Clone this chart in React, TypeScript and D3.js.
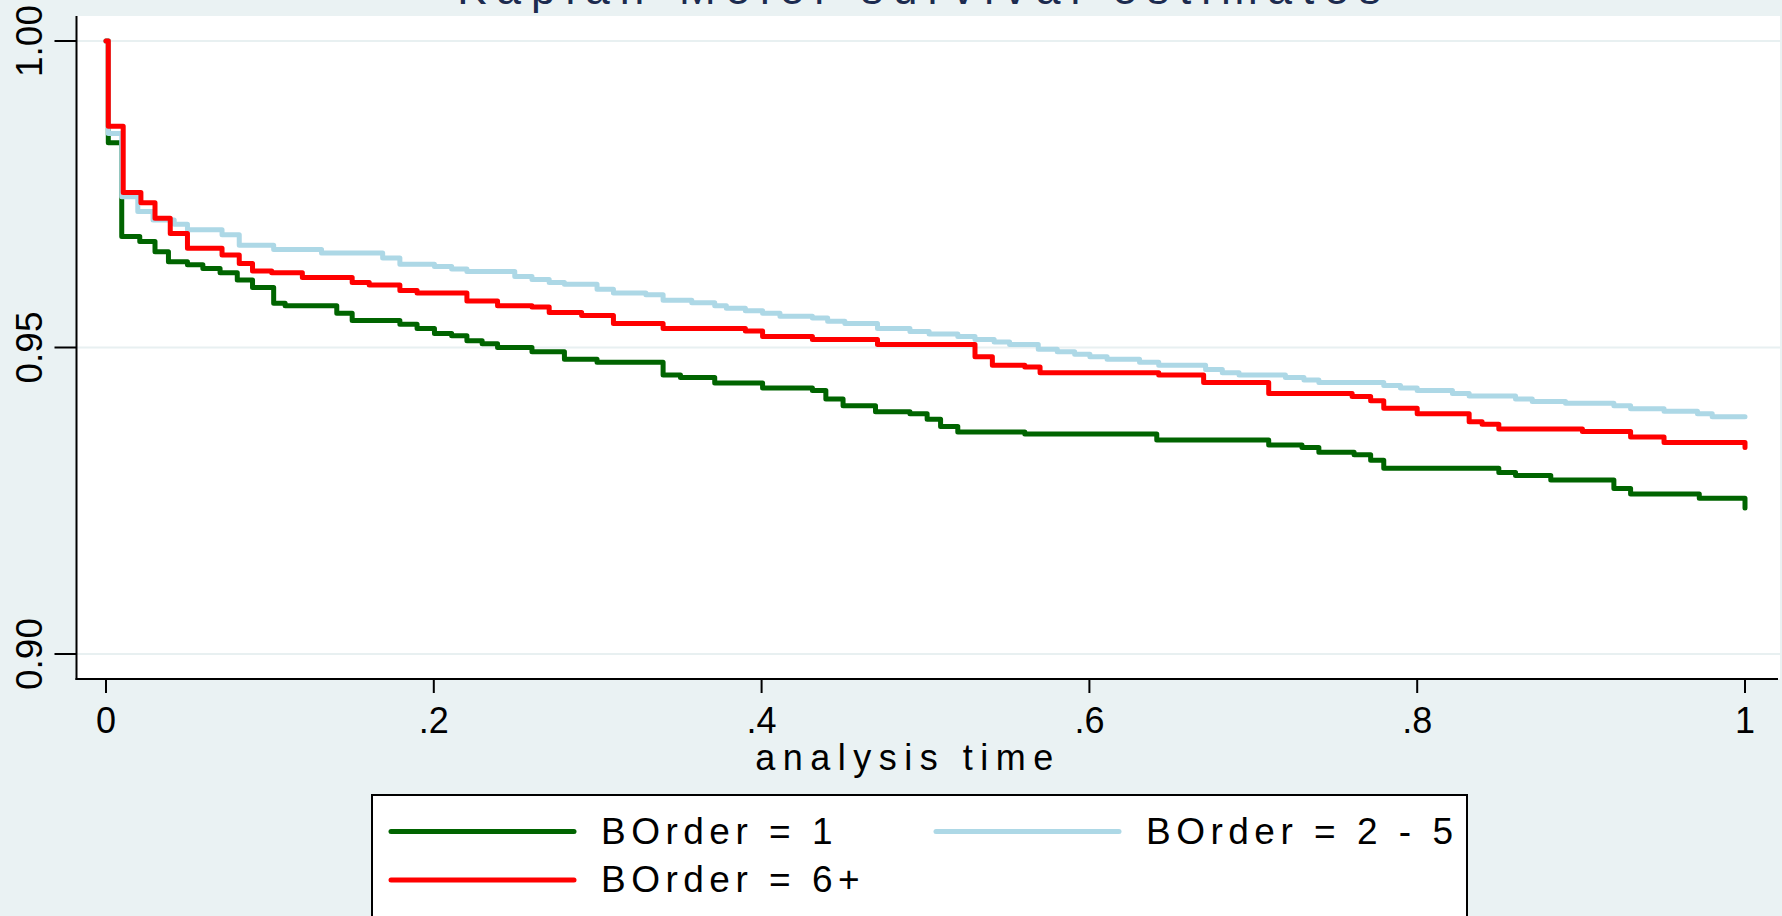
import * as d3 from 'd3'

// step times / survival
const GREEN_T = [0, 0.0014, 0.0096, 0.0206, 0.0299, 0.0381, 0.0497, 0.0591, 0.0696, 0.0801, 0.0894, 0.1023, 0.1093, 0.1408, 0.1502, 0.1793, 0.1898, 0.2004, 0.2109, 0.2202, 0.2295, 0.2389, 0.2599, 0.2797, 0.2996, 0.3399, 0.3505, 0.3714, 0.4006, 0.431, 0.4392, 0.4497, 0.4695, 0.4905, 0.501, 0.5092, 0.5197, 0.5606, 0.6411, 0.7094, 0.7297, 0.74, 0.7615, 0.7716, 0.7796, 0.8498, 0.86, 0.8815, 0.92, 0.9302, 0.9721, 1.0]
const GREEN_S = [1.0, 0.9834, 0.9681, 0.9673, 0.9656, 0.964, 0.9635, 0.9629, 0.9622, 0.961, 0.9598, 0.9572, 0.9568, 0.9556, 0.9544, 0.9538, 0.9531, 0.9523, 0.9519, 0.9511, 0.9506, 0.95, 0.9493, 0.9481, 0.9476, 0.9455, 0.9451, 0.9442, 0.9434, 0.943, 0.9416, 0.9405, 0.9395, 0.9392, 0.9383, 0.9371, 0.9362, 0.9359, 0.9349, 0.9341, 0.9337, 0.9329, 0.9325, 0.9316, 0.9303, 0.9296, 0.9291, 0.9284, 0.927, 0.9261, 0.9254, 0.9238]

const BLUE_T = [0, 0.0014, 0.0096, 0.0194, 0.0287, 0.0416, 0.0497, 0.0708, 0.0813, 0.1023, 0.1315, 0.1688, 0.1793, 0.2004, 0.2109, 0.2202, 0.2494, 0.2599, 0.2704, 0.2797, 0.2996, 0.3096, 0.3294, 0.3399, 0.3574, 0.3714, 0.3785, 0.3901, 0.4006, 0.4112, 0.431, 0.4403, 0.4508, 0.4707, 0.4905, 0.5022, 0.5197, 0.5302, 0.5419, 0.5513, 0.5688, 0.5804, 0.591, 0.6003, 0.6108, 0.6306, 0.6423, 0.6709, 0.6811, 0.6913, 0.7196, 0.7309, 0.74, 0.7796, 0.7898, 0.8, 0.8215, 0.8317, 0.86, 0.8702, 0.8905, 0.92, 0.9302, 0.9506, 0.971, 0.98, 1.0]
const BLUE_S = [1.0, 0.9849, 0.9746, 0.9722, 0.9708, 0.9701, 0.9692, 0.9684, 0.9667, 0.966, 0.9654, 0.9646, 0.9636, 0.9632, 0.9628, 0.9624, 0.9616, 0.9611, 0.9606, 0.9603, 0.9595, 0.9589, 0.9586, 0.9577, 0.9573, 0.9568, 0.9564, 0.956, 0.9556, 0.9551, 0.9548, 0.9543, 0.9539, 0.9531, 0.9526, 0.9522, 0.9518, 0.9513, 0.9509, 0.9505, 0.9497, 0.9493, 0.9489, 0.9485, 0.9481, 0.9476, 0.9471, 0.9464, 0.9459, 0.9455, 0.9451, 0.9447, 0.9443, 0.9438, 0.9434, 0.943, 0.9425, 0.9421, 0.9416, 0.9412, 0.9409, 0.9405, 0.94, 0.9396, 0.9392, 0.9387, 0.9387]

const RED_T = [0, 0.0014, 0.0105, 0.0213, 0.0299, 0.0392, 0.0497, 0.0708, 0.0813, 0.0894, 0.1011, 0.1198, 0.1502, 0.1606, 0.1793, 0.1898, 0.2202, 0.2389, 0.2599, 0.2704, 0.2902, 0.3096, 0.3399, 0.3901, 0.4006, 0.431, 0.4707, 0.5302, 0.5408, 0.5606, 0.5699, 0.6423, 0.6697, 0.7094, 0.7603, 0.7716, 0.7796, 0.8, 0.8317, 0.8396, 0.8498, 0.9008, 0.9302, 0.9506, 1.0]
const RED_S = [1.0, 0.9861, 0.9753, 0.9736, 0.9711, 0.9686, 0.9662, 0.9651, 0.9637, 0.9625, 0.9622, 0.9614, 0.9606, 0.9602, 0.9593, 0.9589, 0.9576, 0.9568, 0.9566, 0.9557, 0.9552, 0.9539, 0.9531, 0.9527, 0.9518, 0.9513, 0.9505, 0.9485, 0.9471, 0.9468, 0.9459, 0.9455, 0.9443, 0.9425, 0.942, 0.9413, 0.9401, 0.9392, 0.9379, 0.9375, 0.9367, 0.9363, 0.9354, 0.9345, 0.9337]

const SERIES_NAMES = ['BOrder = 1', 'BOrder = 2 - 5', 'BOrder = 6+']
const SERIES_COLORS = ['#006400', '#add8e6', '#ff0000']

const X_TICKS = [0, 0.2, 0.4, 0.6, 0.8, 1]
const X_TICK_LABELS = ['0', '.2', '.4', '.6', '.8', '1']
const Y_TICKS = [0.9, 0.95, 1.0]
const Y_TICK_LABELS = ['0.90', '0.95', '1.00']

const TITLE = 'Kaplan-Meier survival estimates'
const X_TITLE = 'analysis time'

const W = 1782
const H = 916
const BG = '#eaf2f3'
const FONT = '"Liberation Sans", Arial, Helvetica, sans-serif'

export default function App() {
  // plot region
  const left = 76.5
  const right = 1780
  const top = 16
  const bottom = 679

  const x = d3.scaleLinear().domain([0, 1]).range([106, 1745])
  const y = d3.scaleLinear().domain([0.9, 1.0]).range([654, 41])

  const line = d3.line<[number, number]>()
    .x(d => x(d[0]))
    .y(d => y(d[1]))
    .curve(d3.curveStepAfter)

  const series = [
    { t: GREEN_T, s: GREEN_S },
    { t: BLUE_T, s: BLUE_S },
    { t: RED_T, s: RED_S }
  ].map((d, i) => ({
    name: SERIES_NAMES[i],
    color: SERIES_COLORS[i],
    points: d.t.map((t, j) => [t, d.s[j]] as [number, number])
  }))

  // legend layout
  const legLeft = 372
  const legRight = 1467
  const legTop = 795
  const legendPos = [
    { lx: 391, ty: 831.5 },
    { lx: 936, ty: 831.5 },
    { lx: 391, ty: 880 }
  ]

  return (
    <svg width={W} height={H} style={{ position: 'absolute', left: 0, top: 0, display: 'block' }} fontFamily={FONT}>
      <rect x={0} y={0} width={W} height={H} fill={BG} />

      {/* title, mostly cut off above the frame (as in the source) */}
      <text x={924} y={4} textAnchor="middle" fontSize={44} letterSpacing={10} fill="#1c2b4f">{TITLE}</text>

      <rect x={left} y={top} width={right - left} height={bottom - top} fill="#ffffff" />

      {/* grid */}
      {Y_TICKS.map((v, i) => (
        <line key={`g-${i}`} x1={left} x2={right} y1={y(v)} y2={y(v)} stroke="#e8f0f1" strokeWidth={2} />
      ))}

      {/* curves */}
      {series.map(d => (
        <path
          key={d.name}
          d={line(d.points) || ''}
          fill="none"
          stroke={d.color}
          strokeWidth={5}
          strokeLinecap="round"
          strokeLinejoin="round"
        />
      ))}

      {/* axes */}
      <line x1={left} x2={left} y1={top} y2={bottom + 1} stroke="#000" strokeWidth={2} />
      <line x1={left - 1} x2={right - 2} y1={bottom} y2={bottom} stroke="#000" strokeWidth={2} />

      {Y_TICKS.map((v, i) => (
        <g key={`yt-${i}`}>
          <line x1={left - 22} x2={left} y1={y(v)} y2={y(v)} stroke="#000" strokeWidth={2} />
          <text
            transform={`translate(42, ${y(v)}) rotate(-90)`}
            textAnchor="middle"
            fontSize={37}
            fill="#000"
          >
            {Y_TICK_LABELS[i]}
          </text>
        </g>
      ))}

      {X_TICKS.map((v, i) => (
        <g key={`xt-${i}`}>
          <line x1={x(v)} x2={x(v)} y1={bottom} y2={bottom + 14} stroke="#000" strokeWidth={2} />
          <text x={x(v)} y={733} textAnchor="middle" fontSize={36} fill="#000">{X_TICK_LABELS[i]}</text>
        </g>
      ))}

      <text x={908} y={770} textAnchor="middle" fontSize={36} letterSpacing={7.5} fill="#000">{X_TITLE}</text>

      {/* legend */}
      <rect x={legLeft} y={legTop} width={legRight - legLeft} height={H - legTop + 10} fill="#fff" stroke="#000" strokeWidth={2} />
      {series.map((d, i) => (
        <g key={`leg-${i}`}>
          <line
            x1={legendPos[i].lx}
            x2={legendPos[i].lx + 183}
            y1={legendPos[i].ty}
            y2={legendPos[i].ty}
            stroke={d.color}
            strokeWidth={5}
            strokeLinecap="round"
          />
          <text
            x={legendPos[i].lx + 210}
            y={legendPos[i].ty + 12}
            fontSize={37}
            letterSpacing={5.5}
            fill="#000"
          >
            {d.name}
          </text>
        </g>
      ))}
    </svg>
  )
}
